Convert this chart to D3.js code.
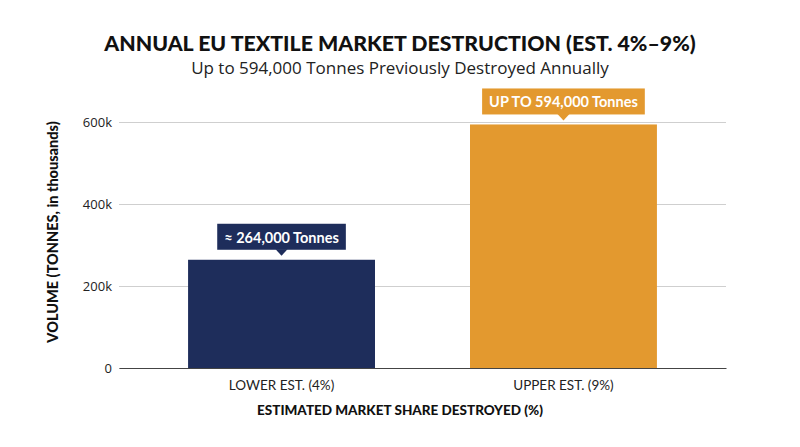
<!DOCTYPE html>
<html><head><meta charset="utf-8">
<script src="https://cdn.jsdelivr.net/npm/d3@7"></script>
<style>body{margin:0;background:#fff}svg{display:block}</style>
</head><body><svg id="c" width="800" height="447"></svg>
<script>
const categories = ["LOWER EST. (4%)", "UPPER EST. (9%)"];
const values = [264000, 594000];
const labels = ["≈ 264,000 Tonnes", "UP TO 594,000 Tonnes"];
const colors = ["#1e2d5b", "#e3992f"];
const yTicks = [0, 200000, 400000, 600000];
const yTickLabels = ["0", "200k", "400k", "600k"];

const svg = d3.select("#c");
const font = "Lato, 'Open Sans', sans-serif";
const font2 = "'Open Sans', Lato, sans-serif";
const x = d3.scaleBand().domain(categories).range([119, 726]).paddingInner(0.337).paddingOuter(0.245);
const y = d3.scaleLinear().domain([0, 600000]).range([368, 122]);

svg.append("text").attr("x", 400).attr("y", 51).attr("text-anchor", "middle")
  .attr("font-family", font).attr("font-weight", 900).attr("font-size", 21.3).attr("fill", "#111")
  .text("ANNUAL EU TEXTILE MARKET DESTRUCTION (EST. 4%–9%)");
svg.append("text").attr("x", 400).attr("y", 74).attr("text-anchor", "middle")
  .attr("font-family", font2).attr("font-weight", 400).attr("font-size", 17).attr("fill", "#222")
  .text("Up to 594,000 Tonnes Previously Destroyed Annually");

// grid
const yAxis = d3.axisLeft(y).tickValues(yTicks).tickFormat((d, i) => yTickLabels[i]).tickSize(-(726 - 119)).tickPadding(7);
const gy = svg.append("g").attr("transform", "translate(119,0)").call(yAxis);
gy.select(".domain").remove();
gy.selectAll(".tick line").attr("stroke", "#cfcfcf").attr("stroke-width", 1);
gy.selectAll(".tick text").attr("font-family", font2).attr("font-size", 13).attr("fill", "#222");

// bars
svg.selectAll("rect.bar").data(categories).join("rect").attr("class", "bar")
  .attr("x", d => x(d)).attr("width", x.bandwidth())
  .attr("y", (d, i) => y(values[i])).attr("height", (d, i) => y(0) - y(values[i]))
  .attr("fill", (d, i) => colors[i]);

// baseline
const gx = svg.append("g").attr("transform", "translate(0,368)").call(d3.axisBottom(x).tickSize(0).tickPadding(12));
gx.select(".domain").attr("stroke", "#444").attr("stroke-width", 1.2);
gx.selectAll(".tick text").attr("font-family", font).attr("font-size", 13.5).attr("fill", "#222");

// labels
categories.forEach((c, i) => {
  const cx = x(c) + x.bandwidth() / 2;
  const top = y(values[i]);
  const g = svg.append("g");
  const t = g.append("text").attr("x", cx).attr("y", top - 17).attr("text-anchor", "middle")
    .attr("font-family", font).attr("font-weight", 700).attr("font-size", 14.5).attr("fill", "#fff").text(labels[i]);
  const bb = t.node().getBBox();
  const padX = 7, boxTop = top - 36, boxBot = top - 10;
  g.insert("rect", "text").attr("x", bb.x - padX).attr("y", boxTop).attr("width", bb.width + 2 * padX).attr("height", boxBot - boxTop).attr("fill", colors[i]);
  g.insert("path", "text").attr("d", `M${cx - 6},${boxBot - 0.5}L${cx + 6},${boxBot - 0.5}L${cx},${boxBot + 6}Z`).attr("fill", colors[i]);
});

svg.append("text").attr("transform", "translate(58,232) rotate(-90)").attr("text-anchor", "middle")
  .attr("font-family", font).attr("font-weight", 900).attr("font-size", 14.5).attr("fill", "#111")
  .text("VOLUME (TONNES, in thousands)");
svg.append("text").attr("x", 400).attr("y", 415).attr("text-anchor", "middle")
  .attr("font-family", font).attr("font-weight", 900).attr("font-size", 13.5).attr("fill", "#111")
  .text("ESTIMATED MARKET SHARE DESTROYED (%)");
</script></body></html>
